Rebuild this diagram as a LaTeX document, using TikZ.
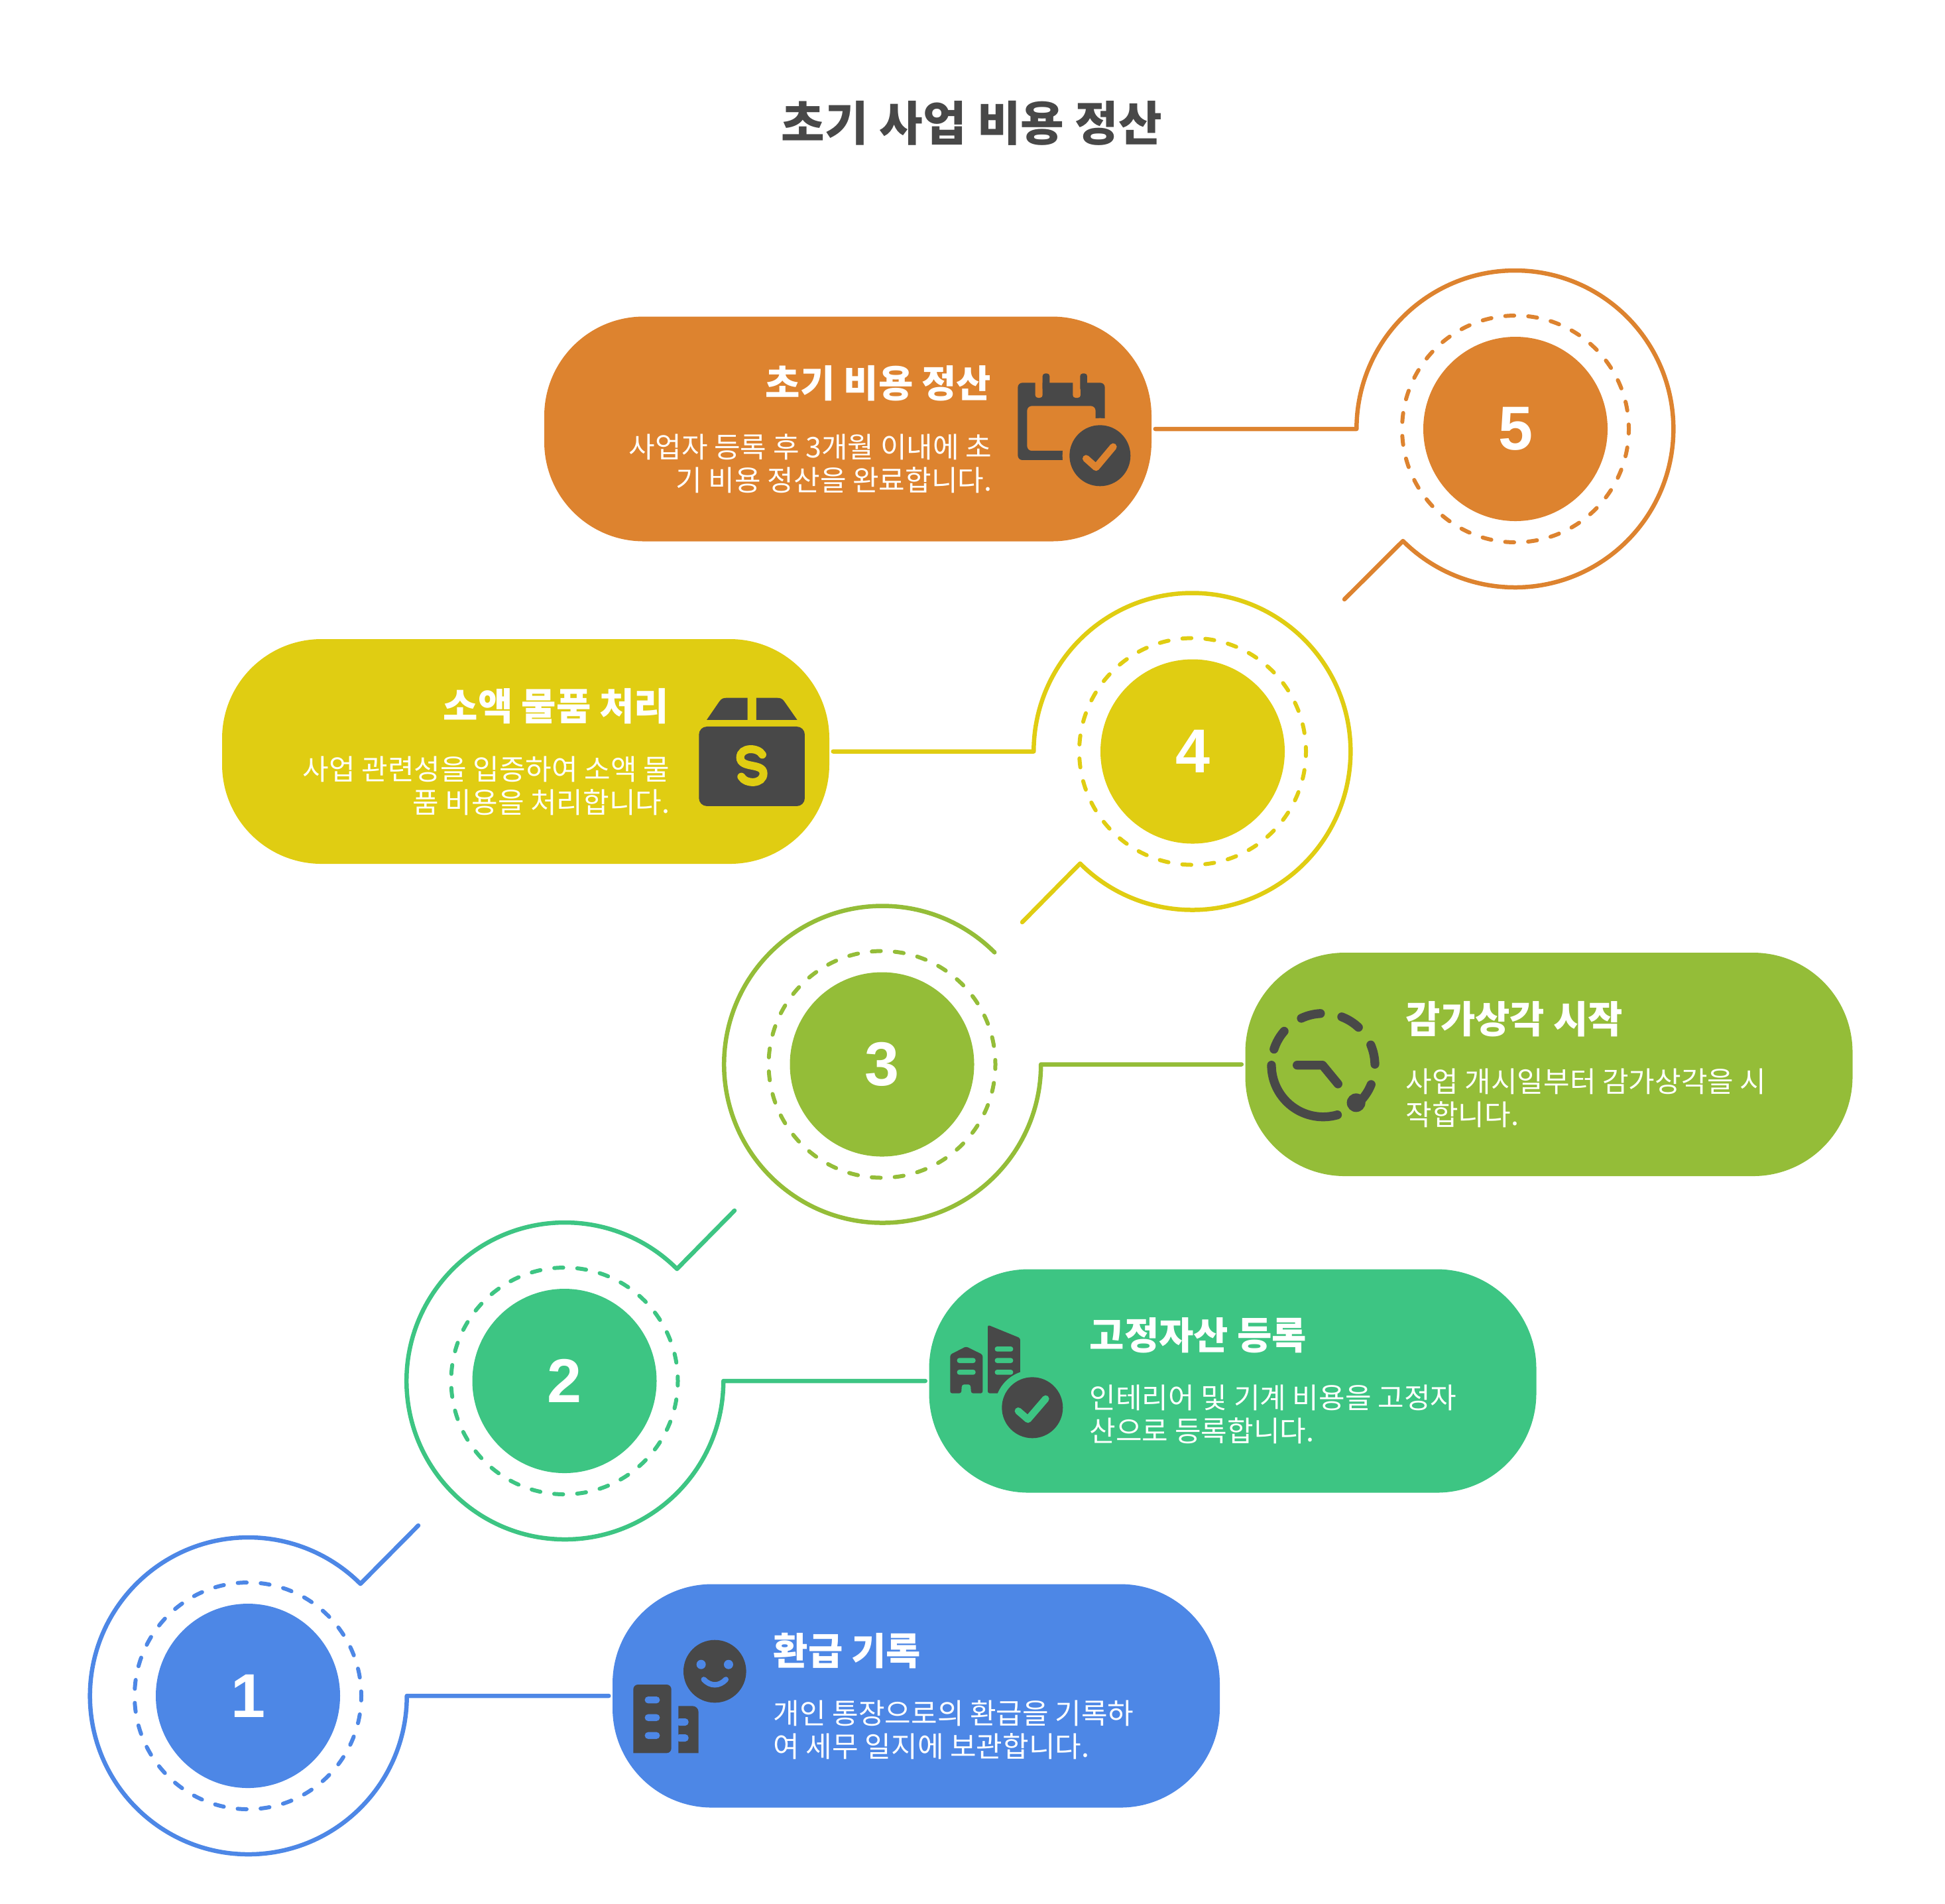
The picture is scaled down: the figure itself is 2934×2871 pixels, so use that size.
\documentclass[tikz,border=0pt]{standalone}
\usepackage{fontspec}
\usetikzlibrary{positioning,calc}
\setmainfont{Noto Sans CJK KR}
\newfontfamily\digitfont{Liberation Sans}
\definecolor{stepA}{HTML}{4D87E6}
\definecolor{stepB}{HTML}{3DC583}
\definecolor{stepC}{HTML}{94BD38}
\definecolor{stepD}{HTML}{E0CD12}
\definecolor{stepE}{HTML}{DD832F}
\definecolor{inkgray}{HTML}{484848}
\begin{document}
\begin{tikzpicture}[
    x=0.1mm, y=-0.1mm,
    pillbox/.style={rectangle, rounded corners=1.5cm, minimum width=9.16cm, minimum height=3.39cm, inner sep=0pt},
    lowpill/.style={pillbox, minimum height=3.37cm},
    disc/.style={circle, minimum size=2.78cm, inner sep=0pt, text=white, font=\digitfont\fontsize{26.6}{30}\selectfont\bfseries},
    dashring/.style={circle, minimum size=3.42cm, inner sep=0pt, line width=0.06cm, line cap=round, dash pattern=on 0.135cm off 0.2116cm, dash phase=0.0675cm},
    ringbase/.style={circle, minimum size=4.78cm, inner sep=0pt},
    link/.style={line width=0.065cm, line cap=round, line join=round, shorten <=0.05cm},
    headtext/.style={text=white, inner sep=0pt, font=\fontsize{16.2}{20}\selectfont\bfseries},
    bodytext/.style={text=white, inner sep=0pt, font=\fontsize{12.25}{14.2}\selectfont},
    iconarea/.style={x=0.03333mm, y=-0.03333mm},
    iconline/.style={draw=inkgray, line width=0.133cm, line cap=round, line join=round},
    tick/.style={line width=0.107cm, line cap=round, line join=round},
]
\useasboundingbox (0,0) rectangle (2934,2871);

% Title
\node[text=inkgray, inner sep=0pt, font=\fontsize{20.3}{24}\selectfont\bfseries] (title) at (1466,186) {초기 사업 비용 정산};

% Pills
\node[lowpill, fill=stepA] (pill1) at (1382,2558) {};
\node[lowpill, fill=stepB] (pill2) at (1859.5,2083) {};
\node[lowpill, fill=stepC] (pill3) at (2336.5,1605.5) {};
\node[pillbox, fill=stepD] (pill4) at (793,1133.5) {};
\node[pillbox, fill=stepE] (pill5) at (1279,647) {};

% Number discs
\node[disc, fill=stepA] (disc1) at (374,2558) {1};
\node[disc, fill=stepB] (disc2) at (851.5,2083) {2};
\node[disc, fill=stepC] (disc3) at (1330.5,1605.5) {3};
\node[disc, fill=stepD] (disc4) at (1799,1133.5) {4};
\node[disc, fill=stepE] (disc5) at (2286,647) {5};

% Dashed rings
\node[dashring, draw=stepA] (dash1) at (disc1) {};
\node[dashring, draw=stepB] (dash2) at (disc2) {};
\node[dashring, draw=stepC] (dash3) at (disc3) {};
\node[dashring, draw=stepD] (dash4) at (disc4) {};
\node[dashring, draw=stepE] (dash5) at (disc5) {};

% Outer rings, only used as anchors
\node[ringbase] (ring1) at (disc1) {};
\node[ringbase] (ring2) at (disc2) {};
\node[ringbase] (ring3) at (disc3) {};
\node[ringbase] (ring4) at (disc4) {};
\node[ringbase] (ring5) at (disc5) {};

\coordinate (tail1) at (631,2301);
\coordinate (tail2) at (1108,1826);
\coordinate (tail4) at (1542,1391);
\coordinate (tail5) at (2028,904);

% Connectors
\draw[link, stepA] (pill1.west) -- (ring1.east) arc[start angle=0, end angle=-315, radius=2.39cm] -- (tail1);
\draw[link, stepB] (pill2.west) -- (ring2.east) arc[start angle=0, end angle=-315, radius=2.39cm] -- (tail2);
\draw[link, stepC] (pill3.west) -- (ring3.east) arc[start angle=0, end angle=-315, radius=2.39cm];
\draw[link, stepD] (pill4.east) -- (ring4.west) arc[start angle=180, end angle=-135, radius=2.39cm] -- (tail4);
\draw[link, stepE] (pill5.east) -- (ring5.west) arc[start angle=180, end angle=-135, radius=2.39cm] -- (tail5);

% Texts
\node[headtext, anchor=east] (headE) at (1496,578) {초기 비용 정산};
\node[bodytext, anchor=east, align=right] (bodyE) at (1497,699) {사업자 등록 후 3개월 이내에 초\\기 비용 정산을 완료합니다.};
\node[headtext, anchor=east] (headD) at (1010,1065) {소액 물품 처리};
\node[bodytext, anchor=east, align=right] (bodyD) at (1011,1185) {사업 관련성을 입증하여 소액 물\\품 비용을 처리합니다.};
\node[headtext, anchor=west] (headC) at (2120,1537) {감가상각 시작};
\node[bodytext, anchor=west, align=left] (bodyC) at (2120,1656) {사업 개시일부터 감가상각을 시\\작합니다.};
\node[headtext, anchor=west] (headB) at (1643,2014) {고정자산 등록};
\node[bodytext, anchor=west, align=left] (bodyB) at (1643,2133) {인테리어 및 기계 비용을 고정자\\산으로 등록합니다.};
\node[headtext, anchor=west] (headA) at (1166,2490) {환급 기록};
\node[bodytext, anchor=west, align=left] (bodyA) at (1166,2609) {개인 통장으로의 환급을 기록하\\여 세무 일지에 보관합니다.};

% Calendar icon
\begin{scope}[shift={(1520,550)}, iconarea]
\fill[inkgray, rounded corners=0.07cm, even odd rule] (46,82) rectangle (440,432) (88,187) rectangle (398,390);
\fill[stepE, rounded corners=0.04cm] (125,60) rectangle (158,150);
\fill[stepE, rounded corners=0.04cm] (295,60) rectangle (330,150);
\fill[stepE] (100,40) rectangle (400,82);
\fill[inkgray, rounded corners=0.04cm] (158,40) rectangle (190,120);
\fill[inkgray, rounded corners=0.04cm] (328,40) rectangle (360,120);
\fill[stepE] (418,412) circle[radius=170];
\fill[inkgray] (418,412) circle[radius=138];
\draw[tick, stepE] (355,425) -- (400,465) -- (478,372);
\end{scope}

% Box icon
\begin{scope}[shift={(1000,950)}, iconarea]
\fill[inkgray, rounded corners=0.12cm] (163,438) rectangle (642,798);
\fill[inkgray] (198,408) -- (383,408) -- (383,308) -- (290,308) .. controls (275,308) and (265,310) .. (255,325) -- cycle;
\fill[inkgray] (423,408) -- (608,408) -- (550,325) .. controls (540,310) and (530,308) .. (515,308) -- (423,308) -- cycle;
\draw[stepD, line width=0.12cm, line cap=round] (450,565) .. controls (430,530) and (350,530) .. (350,578) .. controls (350,630) and (455,600) .. (455,650) .. controls (455,700) and (375,700) .. (355,665);
\end{scope}

% Clock icon
\begin{scope}[shift={(1880,1490)}, iconarea]
\coordinate (clockmid) at (348,350);
\draw[iconline] (clockmid) ++(180:0.78cm) arc[start angle=180, end angle=286, radius=0.78cm];
\draw[iconline] (clockmid) ++(162:0.78cm) arc[start angle=162, end angle=139, radius=0.78cm];
\draw[iconline] (clockmid) ++(115:0.78cm) arc[start angle=115, end angle=93, radius=0.78cm];
\draw[iconline] (clockmid) ++(69:0.78cm) arc[start angle=69, end angle=47, radius=0.78cm];
\draw[iconline] (clockmid) ++(23:0.78cm) arc[start angle=23, end angle=1, radius=0.78cm];
\draw[iconline] (clockmid) ++(-22:0.78cm) arc[start angle=-22, end angle=-49, radius=0.78cm];
\fill[inkgray] (497,520) circle[radius=42];
\draw[iconline] (230,350) -- (345,350) -- (415,435);
\end{scope}

% Buildings with check icon
\begin{scope}[shift={(1400,1960)}, iconarea]
\fill[inkgray, rounded corners=0.03cm] (100,250) -- (172,213) -- (247,250) -- (247,425) -- (195,425) -- (192,385) -- (153,385) -- (150,425) -- (100,425) -- cycle;
\fill[inkgray, rounded corners=0.03cm] (270,115) -- (417,175) -- (417,425) -- (270,425) -- cycle;
\foreach \wy in {265,318}{\fill[stepB, rounded corners=0.035cm] (131,\wy) rectangle (215,\wy+23);}
\foreach \wy in {213,265,318}{\fill[stepB, rounded corners=0.035cm] (302,\wy) rectangle (385,\wy+23);}
\fill[stepB] (472,490) circle[radius=170];
\fill[stepB] (420,330) rectangle (440,425);
\fill[inkgray] (472,490) circle[radius=138];
\draw[tick, stepB] (408,505) -- (452,543) -- (532,450);
\end{scope}

% Buildings with smile icon
\begin{scope}[shift={(930,2440)}, iconarea]
\fill[inkgray, rounded corners=0.07cm] (76,613) -- (76,303) -- (248,303) -- (248,613) [sharp corners] -- cycle;
\fill[inkgray, rounded corners=0.09cm] (280,613) [sharp corners] -- (280,400) [rounded corners=0.09cm] -- (371,400) [sharp corners] -- (371,613) -- cycle;
\foreach \wy in {357,437,518}{\fill[stepA, rounded corners=0.05cm] (128,\wy) rectangle (196,\wy+31);}
\foreach \wy in {456,528}{\fill[stepA, rounded corners=0.05cm] (270,\wy) rectangle (326,\wy+33);}
\fill[inkgray] (445,243) circle[radius=142];
\fill[stepA] (383,212) circle[radius=21];
\fill[stepA] (507,212) circle[radius=21];
\draw[stepA, line width=0.083cm, line cap=round] (395,280) .. controls (425,312) and (465,312) .. (495,280);
\end{scope}
\end{tikzpicture}
\end{document}
